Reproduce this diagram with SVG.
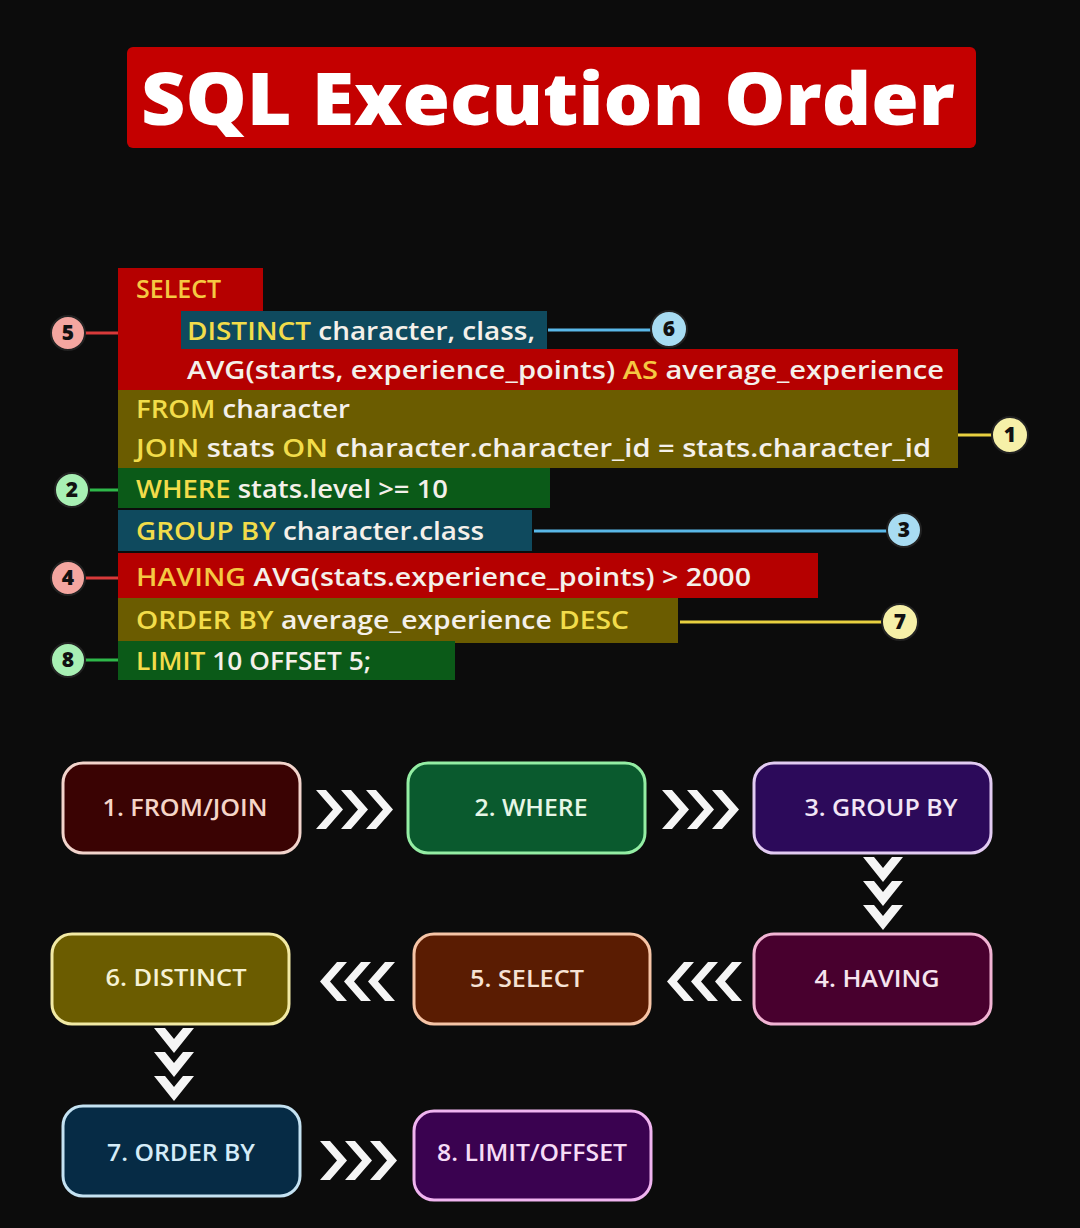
<svg xmlns="http://www.w3.org/2000/svg" width="1080" height="1228" viewBox="0 0 1080 1228">
<defs>
<style>
.code{font-family:"Open Sans","Liberation Sans",sans-serif;font-weight:600;font-size:25px;fill:#f4f0ea}
.kw{fill:#f2dc4a}
.kw2{fill:#f5c842}
.num{font-family:"Open Sans","Liberation Sans",sans-serif;font-weight:800;font-size:21px;fill:#111;text-anchor:middle}
.box{stroke-width:3}
.lbl{font-family:"Open Sans","Liberation Sans",sans-serif;font-weight:600;font-size:23px;text-anchor:middle}
.chev{fill:#f5f5f5}
</style>
<polygon id="cr" points="0,0 10,0 27,19.5 10,39 0,39 17,19.5"/>
<polygon id="cl" points="27,0 17,0 0,19.5 17,39 27,39 10,19.5"/>
<polygon id="cd" points="0,0 11,0 20,11 29,0 40,0 20,25"/>
</defs>
<rect width="1080" height="1228" fill="#0c0c0c"/>

<g id="title">
<rect x="127" y="47" width="849" height="101" rx="6" fill="#c40000"/>
<text x="141" y="125" textLength="814" lengthAdjust="spacingAndGlyphs" font-family="Open Sans, Liberation Sans, sans-serif" font-weight="800" font-size="72" fill="#ffffff">SQL Execution Order</text>
</g>

<g id="code-blocks">
<g id="select-block">
<rect x="118" y="268" width="145" height="43" fill="#b50000"/>
<rect x="118" y="310" width="64" height="40" fill="#b50000"/>
<rect x="118" y="349" width="840" height="41" fill="#b50000"/>
<text class="code" x="136" y="298"><tspan class="kw2">SELECT</tspan></text>
<text class="code" x="187" y="379" textLength="757" lengthAdjust="spacingAndGlyphs">AVG(starts, experience_points) <tspan class="kw2">AS</tspan> average_experience</text>
</g>
<g id="distinct-block">
<rect x="181" y="311" width="366" height="38" fill="#0f4a5e"/>
<text class="code" x="187" y="340" textLength="348" lengthAdjust="spacingAndGlyphs"><tspan class="kw">DISTINCT</tspan> character, class,</text>
</g>
<g id="from-block">
<rect x="118" y="390" width="840" height="78" fill="#6b5c00"/>
<text class="code" x="136" y="418" textLength="214" lengthAdjust="spacingAndGlyphs"><tspan class="kw">FROM</tspan> character</text>
<text class="code" x="136" y="457" textLength="795" lengthAdjust="spacingAndGlyphs"><tspan class="kw">JOIN</tspan> stats <tspan class="kw">ON</tspan> character.character_id = stats.character_id</text>
</g>
<g id="where-block">
<rect x="118" y="468" width="432" height="40" fill="#0b5a18"/>
<text class="code" x="136" y="498" textLength="312" lengthAdjust="spacingAndGlyphs"><tspan class="kw">WHERE</tspan> stats.level &gt;= 10</text>
</g>
<g id="groupby-block">
<rect x="118" y="510" width="414" height="41" fill="#0f4a5e"/>
<text class="code" x="136" y="540" textLength="348" lengthAdjust="spacingAndGlyphs"><tspan class="kw">GROUP BY</tspan> character.class</text>
</g>
<g id="having-block">
<rect x="118" y="553" width="700" height="45" fill="#b50000"/>
<text class="code" x="136" y="586" textLength="615" lengthAdjust="spacingAndGlyphs"><tspan class="kw2">HAVING</tspan> AVG(stats.experience_points) &gt; 2000</text>
</g>
<g id="orderby-block">
<rect x="118" y="598" width="560" height="45" fill="#6b5c00"/>
<text class="code" x="136" y="629" textLength="493" lengthAdjust="spacingAndGlyphs"><tspan class="kw">ORDER BY</tspan> average_experience <tspan class="kw">DESC</tspan></text>
</g>
<g id="limit-block">
<rect x="118" y="641" width="337" height="39" fill="#0b5a18"/>
<text class="code" x="136" y="670" textLength="235" lengthAdjust="spacingAndGlyphs"><tspan class="kw">LIMIT</tspan> 10 OFFSET 5;</text>
</g>
</g>

<g id="connectors">
<g stroke-width="3" fill="none">
<line x1="84" y1="333" x2="118" y2="333" stroke="#d83a3a"/>
<line x1="548" y1="330" x2="652" y2="330" stroke="#5ab8e8"/>
<line x1="958" y1="435" x2="994" y2="435" stroke="#e8d040"/>
<line x1="88" y1="490" x2="118" y2="490" stroke="#2eb84a"/>
<line x1="534" y1="531" x2="888" y2="531" stroke="#5ab8e8"/>
<line x1="84" y1="578" x2="118" y2="578" stroke="#d83a3a"/>
<line x1="680" y1="622" x2="884" y2="622" stroke="#e8d040"/>
<line x1="84" y1="660" x2="118" y2="660" stroke="#2eb84a"/>
</g>
<g class="chev">
<use href="#cr" x="316" y="790"/><use href="#cr" x="341" y="790"/><use href="#cr" x="366" y="790"/>
<use href="#cr" x="662" y="790"/><use href="#cr" x="687" y="790"/><use href="#cr" x="712" y="790"/>
<use href="#cd" x="863" y="857"/><use href="#cd" x="863" y="881"/><use href="#cd" x="863" y="905"/>
<use href="#cl" x="667" y="962"/><use href="#cl" x="691" y="962"/><use href="#cl" x="715" y="962"/>
<use href="#cl" x="320" y="962"/><use href="#cl" x="344" y="962"/><use href="#cl" x="368" y="962"/>
<use href="#cd" x="154" y="1028"/><use href="#cd" x="154" y="1052"/><use href="#cd" x="154" y="1076"/>
<use href="#cr" x="320" y="1141"/><use href="#cr" x="345" y="1141"/><use href="#cr" x="370" y="1141"/>
</g>
</g>

<g id="markers">
<g id="m5"><circle cx="68" cy="333" r="17" fill="#f4a6a0" stroke="#222" stroke-width="2"/><text class="num" x="68" y="340">5</text></g>
<g id="m6"><circle cx="669" cy="329" r="18" fill="#a8dcf2" stroke="#222" stroke-width="2"/><text class="num" x="669" y="336">6</text></g>
<g id="m1"><circle cx="1010" cy="435" r="18" fill="#f6f0a8" stroke="#222" stroke-width="2"/><text class="num" x="1010" y="442">1</text></g>
<g id="m2"><circle cx="72" cy="490" r="17" fill="#a8f0b4" stroke="#222" stroke-width="2"/><text class="num" x="72" y="497">2</text></g>
<g id="m3"><circle cx="904" cy="530" r="17" fill="#a8dcf2" stroke="#222" stroke-width="2"/><text class="num" x="904" y="537">3</text></g>
<g id="m4"><circle cx="68" cy="578" r="17" fill="#f4a6a0" stroke="#222" stroke-width="2"/><text class="num" x="68" y="585">4</text></g>
<g id="m7"><circle cx="900" cy="622" r="18" fill="#f6f0a8" stroke="#222" stroke-width="2"/><text class="num" x="900" y="629">7</text></g>
<g id="m8"><circle cx="68" cy="660" r="17" fill="#a8f0b4" stroke="#222" stroke-width="2"/><text class="num" x="68" y="667">8</text></g>
</g>

<g id="step1"><rect class="box" x="63" y="763" width="237" height="90" rx="20" fill="#3a0303" stroke="#f2d4cc"/><text class="lbl" x="185" y="816" fill="#f5d5c8" textLength="165" lengthAdjust="spacingAndGlyphs">1. FROM/JOIN</text></g>
<g id="step2"><rect class="box" x="408" y="763" width="237" height="90" rx="20" fill="#0a5a2e" stroke="#94eea4"/><text class="lbl" x="531" y="816" fill="#e6f6e6" textLength="113" lengthAdjust="spacingAndGlyphs">2. WHERE</text></g>
<g id="step3"><rect class="box" x="754" y="763" width="237" height="90" rx="20" fill="#2c0a5a" stroke="#e2cbf2"/><text class="lbl" x="881" y="816" fill="#f2e6f6" textLength="153" lengthAdjust="spacingAndGlyphs">3. GROUP BY</text></g>
<g id="step4"><rect class="box" x="754" y="934" width="237" height="90" rx="20" fill="#48002e" stroke="#f2b4d4"/><text class="lbl" x="877" y="987" fill="#f6e4ee" textLength="125" lengthAdjust="spacingAndGlyphs">4. HAVING</text></g>
<g id="step5"><rect class="box" x="414" y="934" width="236" height="90" rx="20" fill="#5a1c02" stroke="#f6c4a6"/><text class="lbl" x="527" y="987" fill="#f6e2d4" textLength="114" lengthAdjust="spacingAndGlyphs">5. SELECT</text></g>
<g id="step6"><rect class="box" x="52" y="934" width="237" height="90" rx="20" fill="#6b5c00" stroke="#f2eaa4"/><text class="lbl" x="176" y="986" fill="#f6f2d4" textLength="141" lengthAdjust="spacingAndGlyphs">6. DISTINCT</text></g>
<g id="step7"><rect class="box" x="63" y="1106" width="237" height="90" rx="20" fill="#062b45" stroke="#c4e2f2"/><text class="lbl" x="181" y="1161" fill="#d4ecf8" textLength="148" lengthAdjust="spacingAndGlyphs">7. ORDER BY</text></g>
<g id="step8"><rect class="box" x="414" y="1111" width="237" height="89" rx="20" fill="#3a0250" stroke="#f0b4f0"/><text class="lbl" x="532" y="1161" fill="#f6dcf6" textLength="190" lengthAdjust="spacingAndGlyphs">8. LIMIT/OFFSET</text></g>
</svg>
